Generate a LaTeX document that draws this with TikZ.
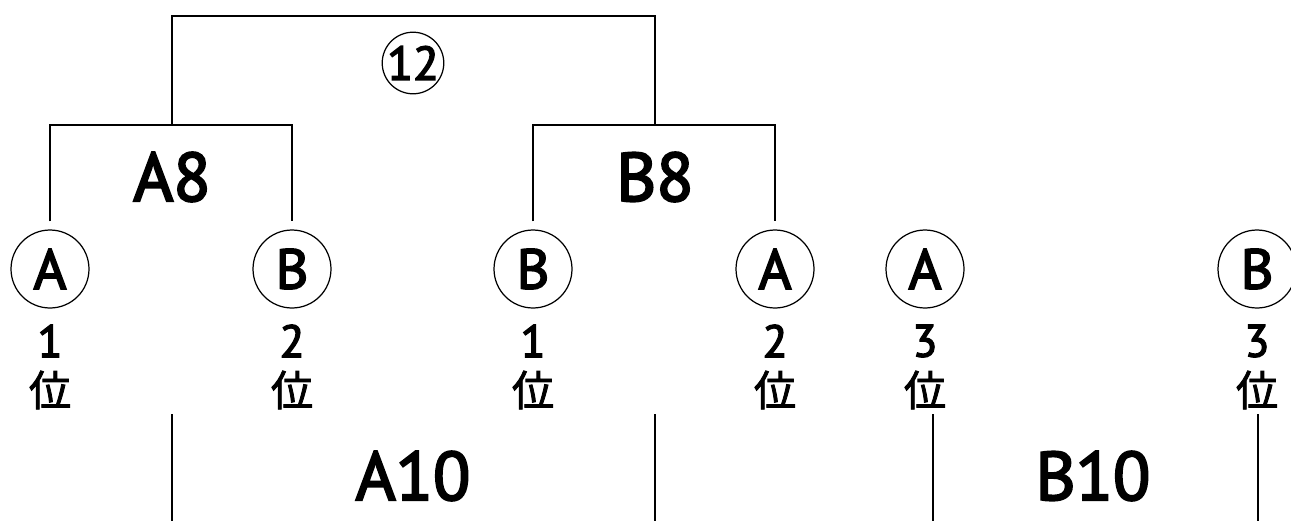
\documentclass[tikz,border=0pt]{standalone}
\usepackage{fontspec}
\setmainfont{PT Sans}
\newfontfamily\medfont{PT Sans}[FakeBold=3]
\newfontfamily\cjk{Noto Sans CJK JP}[FakeBold=2]
\usetikzlibrary{calc}

\tikzset{
  seed/.style={draw,circle,line width=0.7pt,minimum size=1.56cm,inner sep=0pt,font=\medfont\fontsize{32}{32}\selectfont},
  final/.style={draw,circle,line width=0.7pt,minimum size=1.16cm,inner sep=0pt,font=\medfont\fontsize{27}{27}\selectfont},
  rankno/.style={inner sep=0pt,font=\medfont\fontsize{26}{26}\selectfont},
  rankkanji/.style={inner sep=0pt,font=\cjk\fontsize{24}{24}\selectfont},
  match/.style={inner sep=0pt,font=\medfont\fontsize{39}{39}\selectfont},
  bracket/.style={line width=0.85pt}
}

\begin{document}
\begin{tikzpicture}[x=0.02cm,y=-0.02cm]
        \useasboundingbox (0,0) rectangle (1291,521);
        % seeds and ranks
        \foreach \x/\l/\r [count=\i] in {50/A/1,292/B/2,533/B/1,775/A/2,925/A/3,1257/B/3}{
            \node[seed] (s\i) at (\x,269) {\l};
            \node[rankno] (r\i) at (\x,341) {\r};
            \node[rankkanji] (k\i) at (\x,390) {位};
        }
        % match labels
        \node[match] (a8) at (172,177) {A8};
        \node[match] (b8) at (655,177) {B8};
        \node[match] (a10) at (413,476) {A10};
        \node[match] (b10) at (1093,476) {B10};
        \node[final] (f12) at (413,63) {12};
        \coordinate (a8top) at (172,125);
        \coordinate (b8top) at (655,125);
        \coordinate (top) at (413,16);
        % brackets
        \draw[bracket] ([yshift=0.16cm]s1.north) |- (a8top) -| ([yshift=0.16cm]s2.north);
        \draw[bracket] ([yshift=0.16cm]s3.north) |- (b8top) -| ([yshift=0.16cm]s4.north);
        \draw[bracket] (a8top) |- (top) -| (b8top);
        % lower lines
        \coordinate (a10l) at (172,414);
        \coordinate (a10r) at (655,414);
        \coordinate (b10l) at (933,414);
        \coordinate (b10r) at (1258,414);
        \foreach \c in {a10l,a10r,b10l,b10r}
            \draw[bracket] (\c) -- ($(\c)+(0,107)$);
\end{tikzpicture}
\end{document}
